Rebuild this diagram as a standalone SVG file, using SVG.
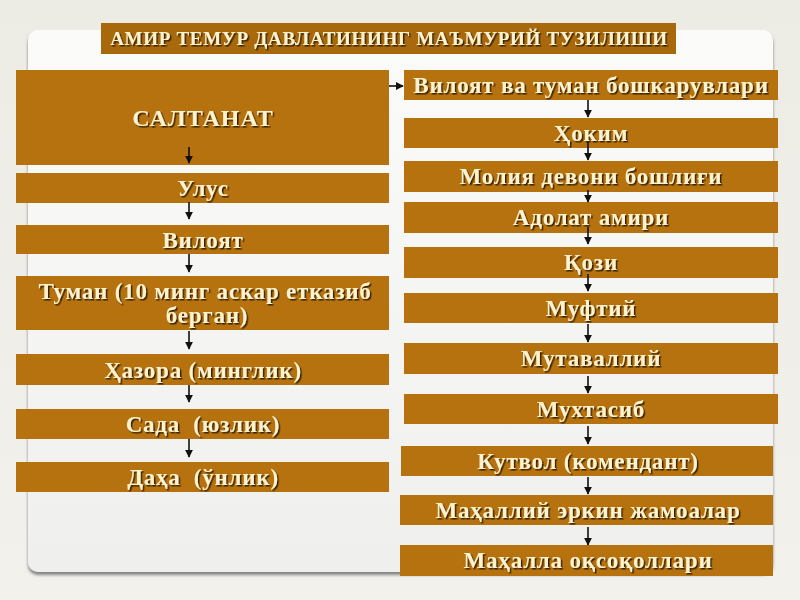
<svg xmlns="http://www.w3.org/2000/svg" width="800" height="600" viewBox="0 0 800 600">
<defs>
<linearGradient id="bg" x1="0" y1="0" x2="0" y2="1"><stop offset="0" stop-color="#ECEBE4"/><stop offset="1" stop-color="#F2F1EC"/></linearGradient>
<linearGradient id="panel" x1="0" y1="0" x2="0" y2="1"><stop offset="0" stop-color="#FBFBFA"/><stop offset="1" stop-color="#EFEFEE"/></linearGradient>
<filter id="sh" x="-5%" y="-30%" width="110%" height="160%"><feDropShadow dx="1.5" dy="1.5" stdDeviation="0.6" flood-color="#2A1800" flood-opacity="0.9"/></filter>
<filter id="psh" x="-5%" y="-5%" width="110%" height="110%"><feDropShadow dx="0" dy="3" stdDeviation="1.5" flood-color="#555" flood-opacity="0.7"/></filter>
<marker id="ah" viewBox="0 0 10 10" refX="9" refY="5" markerWidth="5" markerHeight="5" orient="auto"><path d="M0,0 L10,5 L0,10 z" fill="#111"/></marker>
<style>
.box{fill:#B5720E;}
.title{fill:#A7690B;}
.t{font-family:"Liberation Serif","DejaVu Serif",serif;font-weight:bold;fill:#FFF3CF;text-anchor:middle;filter:url(#sh);font-size:23px;letter-spacing:0.8px;white-space:pre;}
.c{stroke:#111;stroke-width:1.6;fill:none;marker-end:url(#ah);}
</style>
</defs>
<rect width="800" height="600" fill="url(#bg)"/>
<rect x="28" y="30" width="745" height="542" rx="10" fill="url(#panel)" filter="url(#psh)"/>

<g id="title"><rect class="title" x="101" y="23" width="575" height="31"/><text class="t" x="389" y="45" style="font-size:19px;letter-spacing:0.7px">АМИР ТЕМУР ДАВЛАТИНИНГ МАЪМУРИЙ ТУЗИЛИШИ</text></g>

<g id="saltanat"><rect class="box" x="16" y="70" width="373" height="95"/><text class="t" x="203" y="126" style="font-size:24px;letter-spacing:1px">САЛТАНАТ</text></g>
<g id="ulus"><rect class="box" x="16" y="173" width="373" height="30"/><text class="t" x="203" y="196">Улус</text></g>
<g id="viloyat"><rect class="box" x="16" y="225" width="373" height="29"/><text class="t" x="203" y="248">Вилоят</text></g>
<g id="tuman"><rect class="box" x="16" y="276" width="373" height="54"/><text class="t" x="205" y="299">Туман (10 минг аскар етказиб</text><text class="t" x="207" y="323">берган)</text></g>
<g id="hazora"><rect class="box" x="16" y="354" width="373" height="31"/><text class="t" x="203" y="378">Ҳазора (минглик)</text></g>
<g id="sada"><rect class="box" x="16" y="409" width="373" height="30"/><text class="t" x="203" y="432" xml:space="preserve">Сада  (юзлик)</text></g>
<g id="daha"><rect class="box" x="16" y="462" width="373" height="30"/><text class="t" x="203" y="485" xml:space="preserve">Даҳа  (ўнлик)</text></g>

<g id="boshqaruv"><rect class="box" x="404" y="70" width="374" height="30"/><text class="t" x="591" y="93">Вилоят ва туман бошкарувлари</text></g>
<g id="hokim"><rect class="box" x="404" y="118" width="374" height="30"/><text class="t" x="591" y="141">Ҳоким</text></g>
<g id="moliya"><rect class="box" x="404" y="161" width="374" height="31"/><text class="t" x="591" y="184">Молия девони бошлиғи</text></g>
<g id="adolat"><rect class="box" x="404" y="202" width="374" height="31"/><text class="t" x="591" y="225">Адолат амири</text></g>
<g id="qozi"><rect class="box" x="404" y="247" width="374" height="31"/><text class="t" x="591" y="270">Қози</text></g>
<g id="muftiy"><rect class="box" x="404" y="293" width="374" height="30"/><text class="t" x="591" y="316">Муфтий</text></g>
<g id="mutavalliy"><rect class="box" x="404" y="343" width="374" height="31"/><text class="t" x="591" y="366">Мутаваллий</text></g>
<g id="muhtasib"><rect class="box" x="404" y="394" width="374" height="30"/><text class="t" x="591" y="417">Мухтасиб</text></g>
<g id="kutvol"><rect class="box" x="401" y="446" width="372" height="30"/><text class="t" x="588" y="469">Кутвол (комендант)</text></g>
<g id="mahalliy"><rect class="box" x="400" y="495" width="373" height="30"/><text class="t" x="588" y="518">Маҳаллий эркин жамоалар</text></g>
<g id="oqsoqol"><rect class="box" x="400" y="545" width="373" height="31"/><text class="t" x="588" y="568">Маҳалла оқсоқоллари</text></g>

<g id="connectors">
<line class="c" x1="189" y1="147" x2="189" y2="163"/>
<line class="c" x1="189" y1="202" x2="189" y2="219"/>
<line class="c" x1="189" y1="254" x2="189" y2="272"/>
<line class="c" x1="189" y1="331" x2="189" y2="349"/>
<line class="c" x1="189" y1="385" x2="189" y2="402"/>
<line class="c" x1="189" y1="439" x2="189" y2="457"/>
<line class="c" x1="389" y1="86" x2="403" y2="86"/>
<line class="c" x1="588" y1="100" x2="588" y2="117"/>
<line class="c" x1="588" y1="142" x2="588" y2="160"/>
<line class="c" x1="588" y1="190" x2="588" y2="202"/>
<line class="c" x1="588" y1="227" x2="588" y2="244"/>
<line class="c" x1="588" y1="274" x2="588" y2="291"/>
<line class="c" x1="588" y1="324" x2="588" y2="342"/>
<line class="c" x1="588" y1="376" x2="588" y2="393"/>
<line class="c" x1="588" y1="426" x2="588" y2="444"/>
<line class="c" x1="588" y1="477" x2="588" y2="494"/>
<line class="c" x1="588" y1="527" x2="588" y2="545"/>
</g>
</svg>
